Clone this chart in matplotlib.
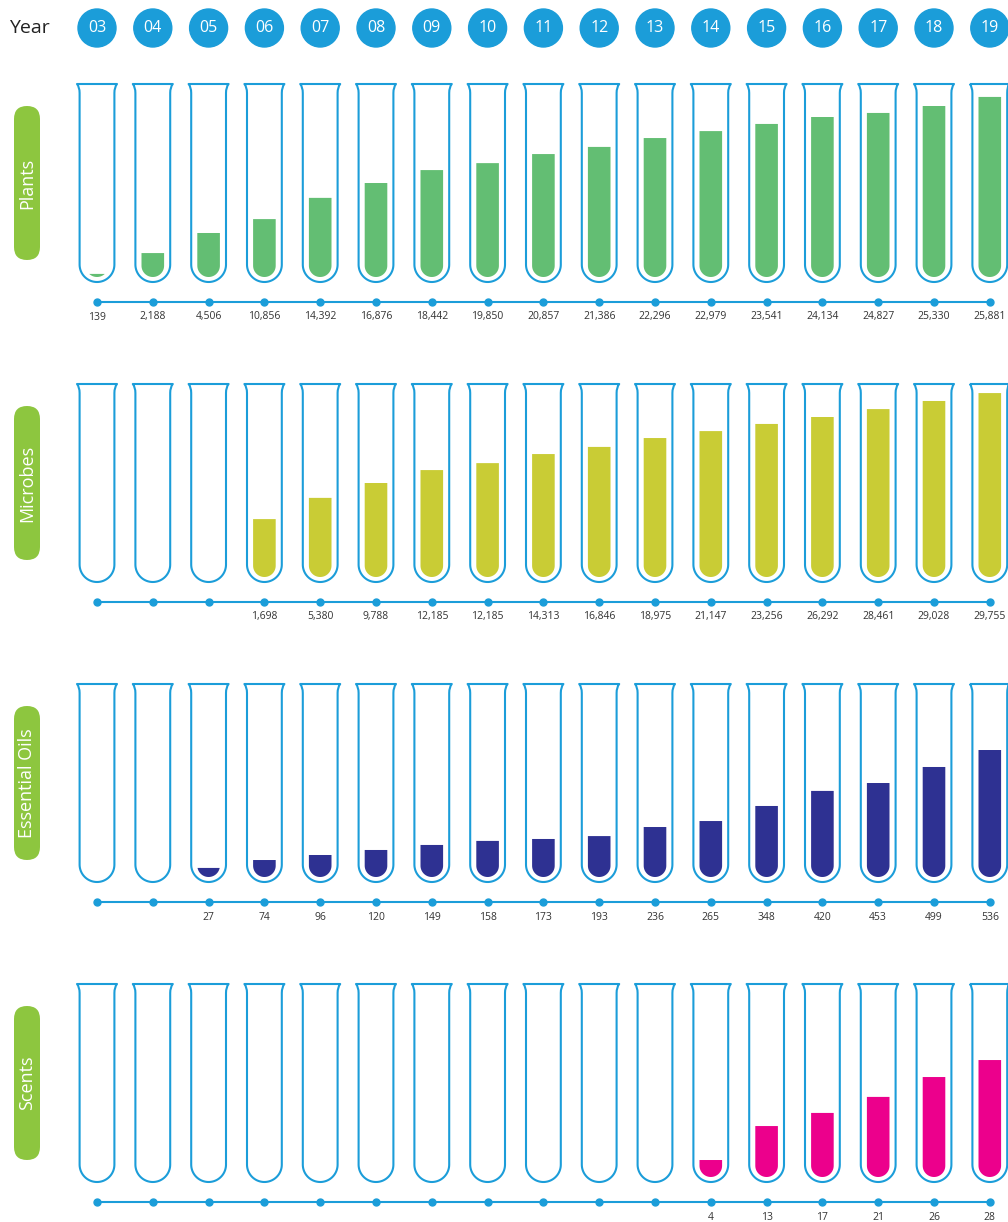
import numpy as np
import matplotlib.pyplot as plt
from matplotlib.patches import Polygon, Circle, FancyBboxPatch, PathPatch
from matplotlib.path import Path

plt.rcParams['font.family'] = ['Open Sans', 'DejaVu Sans']

# data
years = ['03', '04', '05', '06', '07', '08', '09', '10', '11',
         '12', '13', '14', '15', '16', '17', '18', '19']
panels = ['Plants', 'Microbes', 'Essential Oils', 'Scents']

plants_values = ['139', '2,188', '4,506', '10,856', '14,392', '16,876', '18,442', '19,850', '20,857',
                 '21,386', '22,296', '22,979', '23,541', '24,134', '24,827', '25,330', '25,881']
microbes_values = [None, None, None, '1,698', '5,380', '9,788', '12,185', '12,185', '14,313',
                   '16,846', '18,975', '21,147', '23,256', '26,292', '28,461', '29,028', '29,755']
oils_values = [None, None, '27', '74', '96', '120', '149', '158', '173',
               '193', '236', '265', '348', '420', '453', '499', '536']
scents_values = [None] * 11 + ['4', '13', '17', '21', '26', '28']

# how full each tube looks (% of tube height)
plants_level = [1.6, 12.4, 22.8, 30, 41, 48.7, 55.4, 59, 63.7,
                67.4, 72, 75.6, 79.3, 82.9, 85, 88.6, 93.3]
microbes_level = [0, 0, 0, 30, 41, 48.7, 55.4, 59, 63.7,
                  67.4, 72, 75.6, 79.3, 82.9, 87, 91.2, 95.3]
oils_level = [0, 0, 4.7, 8.8, 11.4, 14, 16.6, 18.7, 19.7,
              21.2, 25.9, 29, 36.8, 44.6, 48.7, 57, 65.8]
scents_level = [0] * 11 + [8.8, 26.4, 33.2, 41.5, 51.8, 60.6]

values = [plants_values, microbes_values, oils_values, scents_values]
levels = [plants_level, microbes_level, oils_level, scents_level]
fill_colors = ['#63BE73', '#C9CC35', '#2E3192', '#EC008C']

blue = '#1B9DD9'
green = '#8DC63F'

fig = plt.figure(figsize=(10.08, 12.22), dpi=100)
ax = fig.add_axes([0, 0, 1, 1])
ax.set_xlim(0, 1008)
ax.set_ylim(1222, 0)
ax.axis('off')

x0, dx = 97, 55.8
xs = [x0 + i * dx for i in range(len(years))]


def tube_patch(cx, top):
    R, r, lip = 20, 17.4, 9
    bottom = top + 198
    yc = bottom - r
    t = np.linspace(0, np.pi, 40)
    verts = [(cx - R, top), (cx + R, top), (cx + r, top + 3), (cx + r, top + lip), (cx + r, yc)]
    codes = [Path.MOVETO, Path.LINETO, Path.CURVE3, Path.CURVE3, Path.LINETO]
    for a in t:
        verts.append((cx + r * np.cos(a), yc + r * np.sin(a)))
        codes.append(Path.LINETO)
    verts += [(cx - r, top + lip), (cx - r, top + 3), (cx - R, top), (cx - R, top)]
    codes += [Path.LINETO, Path.CURVE3, Path.CURVE3, Path.CLOSEPOLY]
    return PathPatch(Path(verts, codes), facecolor='none', edgecolor=blue, lw=1.5, joinstyle='round')


def fill_patch(cx, bottom, h, color, r=11.3):
    yc = bottom - r
    top = bottom - h
    if h >= r:
        t = np.linspace(np.pi, 0, 40)
        pts = [(cx - r, top)] + list(zip(cx + r * np.cos(t), yc + r * np.sin(t))) + [(cx + r, top)]
    else:
        a = np.arcsin((top - yc) / r)
        t = np.linspace(np.pi - a, a, 40)
        pts = list(zip(cx + r * np.cos(t), yc + r * np.sin(t)))
    return Polygon(pts, closed=True, facecolor=color, edgecolor='none')


# header row
ax.text(9, 28, 'Year', fontsize=14, color='#222222', ha='left', va='center')
for x, yr in zip(xs, years):
    ax.add_patch(Circle((x, 28), 19, color=blue))
    ax.text(x, 28, yr, fontsize=11.5, color='white', ha='center', va='center')

scale = 193 / 100.0
for k, name in enumerate(panels):
    off = 300 * k
    top = 84 + off
    bottom = 277 + off
    mid = (84 + 282) / 2 + off

    # side label pill
    ax.add_patch(FancyBboxPatch((14, mid - 77), 26, 154,
                                boxstyle='round,pad=0,rounding_size=13',
                                facecolor=green, edgecolor='none'))
    ax.text(27.5, mid, name, rotation=90, fontsize=13, color='white',
            ha='center', va='center')

    for x, lv in zip(xs, levels[k]):
        ax.add_patch(tube_patch(x, top))
        if lv > 0:
            ax.add_patch(fill_patch(x, bottom, lv * scale, fill_colors[k]))

    # time line with dots and values
    ly = 302 + off
    ax.plot([xs[0], xs[-1]], [ly, ly], color=blue, lw=1.5)
    ax.plot(xs, [ly] * len(xs), 'o', color=blue, ms=5)
    for x, v in zip(xs, values[k]):
        if v is not None:
            ax.text(x, ly + 17.5, v, fontsize=7.5, color='#333333', ha='center', va='baseline')

fig.savefig('out.png', dpi=100)
